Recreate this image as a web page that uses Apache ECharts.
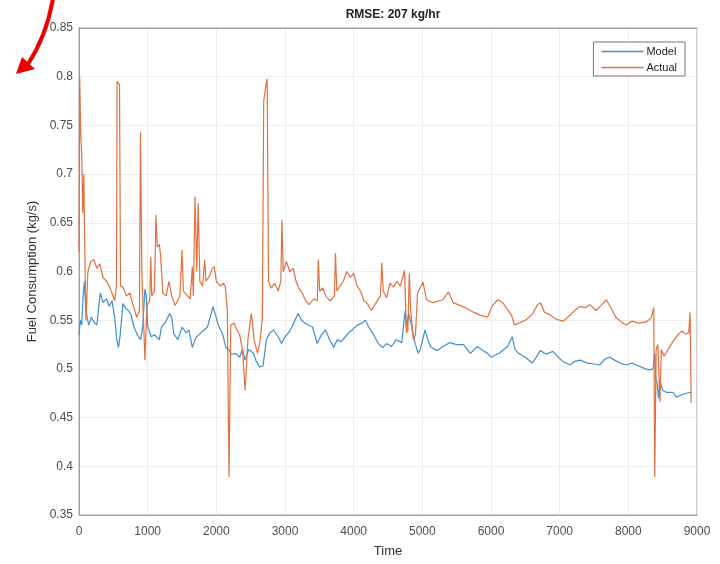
<!DOCTYPE html>
<html lang="en">
<head>
	<meta charset="UTF-8">
	<title>RMSE: 207 kg/hr</title>
	<script src="https://cdn.jsdelivr.net/npm/echarts@6/dist/echarts.min.js"></script>
	<style>
		body { margin: 0; background: #fff; }
	</style>
</head>
<body>
	<div id="main" style="width: 720px;height: 564px"></div>
	<script>
		// tick labels of the axes
		var xTicks = [0, 1000, 2000, 3000, 4000, 5000, 6000, 7000, 8000, 9000];
		var yTicks = [0.35, 0.4, 0.45, 0.5, 0.55, 0.6, 0.65, 0.7, 0.75, 0.8, 0.85];

		// Model series
		var modelTime = [0, 20, 40, 60, 80, 100, 140, 180, 220, 260, 310, 350, 400, 440, 480, 520, 550, 575, 600, 640,
			680, 720, 760, 800, 850, 900, 930, 960, 980, 1000, 1050, 1100, 1170, 1200, 1260, 1320, 1350, 1380, 1440, 1500,
			1560, 1600, 1650, 1700, 1760, 1820, 1870, 1920, 1950, 1990, 2020, 2060, 2090, 2140, 2180, 2220, 2280, 2340, 2380, 2420,
			2470, 2540, 2580, 2630, 2680, 2730, 2780, 2830, 2900, 2950, 3000, 3060, 3100, 3190, 3240, 3290, 3340, 3400, 3470, 3530,
			3590, 3650, 3710, 3760, 3820, 3880, 3940, 3980, 4050, 4120, 4170, 4220, 4290, 4360, 4420, 4480, 4550, 4620, 4700, 4750,
			4770, 4800, 4840, 4880, 4940, 4970, 5040, 5080, 5120, 5180, 5220, 5300, 5400, 5500, 5600, 5700, 5800, 5900, 5950, 6000,
			6120, 6240, 6310, 6350, 6400, 6500, 6600, 6660, 6720, 6800, 6900, 6980, 7060, 7150, 7230, 7300, 7400, 7500, 7580, 7660,
			7730, 7800, 7880, 7970, 8050, 8150, 8250, 8310, 8360, 8385, 8400, 8420, 8440, 8460, 8500, 8550, 8650, 8700, 8800, 8900, 8915];
		var modelValues = [0.535, 0.55, 0.545, 0.575, 0.59, 0.56, 0.545, 0.553, 0.548, 0.545, 0.578, 0.568, 0.572, 0.564, 0.57, 0.553, 0.53, 0.522, 0.535, 0.567,
			0.562, 0.56, 0.555, 0.543, 0.535, 0.53, 0.545, 0.582, 0.575, 0.544, 0.533, 0.535, 0.53, 0.543, 0.548, 0.557, 0.553, 0.536, 0.53, 0.543,
			0.537, 0.54, 0.522, 0.532, 0.536, 0.54, 0.543, 0.555, 0.564, 0.555, 0.547, 0.54, 0.536, 0.522, 0.52, 0.515, 0.516, 0.512, 0.52, 0.509,
			0.52, 0.516, 0.508, 0.502, 0.503, 0.53, 0.537, 0.54, 0.533, 0.526, 0.533, 0.538, 0.543, 0.557, 0.55, 0.547, 0.545, 0.543, 0.526, 0.535,
			0.54, 0.53, 0.522, 0.53, 0.528, 0.533, 0.538, 0.54, 0.545, 0.547, 0.55, 0.543, 0.535, 0.526, 0.522, 0.526, 0.523, 0.53, 0.527, 0.56,
			0.54, 0.557, 0.545, 0.53, 0.516, 0.52, 0.54, 0.53, 0.523, 0.52, 0.519, 0.523, 0.527, 0.525, 0.525, 0.516, 0.523, 0.518, 0.516, 0.512,
			0.516, 0.523, 0.533, 0.52, 0.516, 0.512, 0.506, 0.512, 0.519, 0.515, 0.518, 0.512, 0.507, 0.504, 0.508, 0.509, 0.506, 0.505, 0.504, 0.51,
			0.512, 0.509, 0.506, 0.504, 0.506, 0.503, 0.5, 0.499, 0.5, 0.516, 0.49, 0.485, 0.47, 0.488, 0.478, 0.476, 0.476, 0.471, 0.474, 0.476, 0.475];

		// Actual series
		var actualTime = [0, 10, 25, 40, 55, 70, 85, 100, 130, 170, 220, 260, 300, 350, 400, 440, 480, 520, 545, 555,
			590, 605, 640, 690, 740, 790, 840, 880, 895, 915, 960, 990, 1030, 1045, 1060, 1100, 1120, 1140, 1170, 1190,
			1220, 1270, 1310, 1350, 1400, 1470, 1500, 1520, 1580, 1620, 1650, 1665, 1690, 1715, 1735, 1760, 1800, 1830, 1850, 1900,
			1940, 1970, 2000, 2060, 2100, 2130, 2160, 2185, 2210, 2260, 2300, 2340, 2380, 2420, 2460, 2510, 2550, 2600, 2640, 2670,
			2690, 2720, 2740, 2760, 2800, 2850, 2900, 2940, 2955, 2975, 3020, 3070, 3120, 3160, 3200, 3250, 3300, 3350, 3420, 3470,
			3485, 3505, 3550, 3600, 3660, 3720, 3735, 3755, 3800, 3850, 3900, 3950, 4000, 4050, 4100, 4150, 4200, 4260, 4300, 4390,
			4410, 4430, 4480, 4530, 4580, 4630, 4680, 4740, 4770, 4790, 4810, 4830, 4870, 4900, 4930, 5010, 5060, 5150, 5250, 5300,
			5380, 5450, 5550, 5650, 5750, 5850, 5950, 6020, 6100, 6170, 6250, 6300, 6340, 6400, 6500, 6600, 6680, 6720, 6780, 6850,
			6950, 7050, 7150, 7250, 7300, 7380, 7440, 7530, 7600, 7680, 7750, 7820, 7900, 7970, 8050, 8150, 8250, 8330, 8370, 8385,
			8405, 8430, 8460, 8480, 8520, 8580, 8650, 8720, 8780, 8830, 8880, 8900, 8915];
		var actualValues = [0.62, 0.8, 0.74, 0.72, 0.66, 0.7, 0.62, 0.55, 0.6, 0.61, 0.612, 0.603, 0.608, 0.594, 0.59, 0.585, 0.578, 0.57, 0.585, 0.795,
			0.792, 0.585, 0.584, 0.575, 0.578, 0.565, 0.553, 0.56, 0.743, 0.6, 0.509, 0.565, 0.57, 0.615, 0.575, 0.58, 0.658, 0.625, 0.628, 0.615,
			0.578, 0.575, 0.59, 0.575, 0.565, 0.575, 0.622, 0.58, 0.575, 0.572, 0.605, 0.575, 0.677, 0.6, 0.67, 0.59, 0.585, 0.612, 0.59, 0.595,
			0.603, 0.605, 0.59, 0.585, 0.588, 0.585, 0.56, 0.389, 0.545, 0.547, 0.54, 0.535, 0.52, 0.478, 0.53, 0.557, 0.53, 0.516, 0.53, 0.553,
			0.775, 0.79, 0.798, 0.59, 0.583, 0.588, 0.58, 0.59, 0.653, 0.6, 0.61, 0.6, 0.603, 0.59, 0.583, 0.578, 0.57, 0.566, 0.572, 0.57,
			0.612, 0.58, 0.583, 0.574, 0.57, 0.575, 0.619, 0.58, 0.585, 0.59, 0.6, 0.594, 0.598, 0.585, 0.58, 0.57, 0.567, 0.56, 0.565, 0.575,
			0.609, 0.58, 0.573, 0.588, 0.584, 0.59, 0.585, 0.601, 0.537, 0.54, 0.598, 0.56, 0.53, 0.535, 0.578, 0.589, 0.571, 0.568, 0.57, 0.571,
			0.579, 0.568, 0.565, 0.562, 0.558, 0.555, 0.553, 0.565, 0.571, 0.568, 0.56, 0.555, 0.545, 0.547, 0.55, 0.556, 0.566, 0.568, 0.558, 0.556,
			0.551, 0.549, 0.555, 0.562, 0.564, 0.563, 0.566, 0.56, 0.565, 0.571, 0.562, 0.553, 0.548, 0.545, 0.549, 0.547, 0.548, 0.552, 0.563, 0.389,
			0.52, 0.525, 0.466, 0.52, 0.513, 0.52, 0.528, 0.535, 0.539, 0.536, 0.537, 0.558, 0.465];

		function pairs(t, v) {
			return t.map(function (x, i) { return [x, v[i]]; });
		}

		var textColor = '#4d4d4d';
		var boxColor = '#a0a0a0';

		var myChart = echarts.init(document.getElementById('main'));
		var option = {
			animation: false,
			backgroundColor: '#fff',
			title: {
				text: 'RMSE: 207 kg/hr',
				left: 388,
				top: 4,
				textAlign: 'center',
				textStyle: { fontFamily: 'Liberation Sans', fontSize: 12, fontWeight: 'bold', color: '#222' }
			},
			legend: {
				orient: 'vertical',
				right: 35,
				top: 42,
				backgroundColor: '#fff',
				borderColor: '#777',
				borderWidth: 1,
				borderRadius: 0,
				padding: [4, 8, 3, 8],
				itemGap: 5,
				itemWidth: 42,
				itemHeight: 1.5,
				icon: 'rect',
				textStyle: { fontFamily: 'Liberation Sans', fontSize: 11, color: '#222', padding: [0, 0, 0, -2] },
				data: ['Model', 'Actual']
			},
			grid: {
				left: 79,
				right: 23,
				top: 28,
				bottom: 49,
				show: true,
				borderColor: boxColor,
				borderWidth: 1
			},
			xAxis: [{
				type: 'value',
				min: xTicks[0],
				max: xTicks[xTicks.length - 1],
				interval: 1000,
				name: 'Time',
				nameLocation: 'middle',
				nameGap: 30,
				nameTextStyle: { fontFamily: 'Liberation Sans', fontSize: 13, color: '#333' },
				axisLine: { lineStyle: { color: boxColor } },
				axisTick: { show: false },
				axisLabel: {
					margin: 11, fontFamily: 'Liberation Sans', fontSize: 12, color: textColor,
					formatter: function (v) { return String(v); }
				},
				splitLine: { show: true, lineStyle: { color: '#ececec' } }
			}, {
				type: 'value',
				position: 'top',
				min: xTicks[0],
				max: xTicks[xTicks.length - 1],
				interval: 1000,
				axisLine: { lineStyle: { color: boxColor } },
				axisTick: { show: false },
				axisLabel: { show: false },
				splitLine: { show: false }
			}],
			yAxis: [{
				type: 'value',
				min: yTicks[0],
				max: yTicks[yTicks.length - 1],
				interval: 0.05,
				name: 'Fuel Consumption (kg/s)',
				nameLocation: 'middle',
				nameGap: 39,
				nameTextStyle: { fontFamily: 'Liberation Sans', fontSize: 13, color: '#333' },
				axisLine: { show: true, lineStyle: { color: boxColor } },
				axisTick: { show: false },
				axisLabel: { margin: 6, fontFamily: 'Liberation Sans', fontSize: 12, color: textColor },
				splitLine: { show: true, lineStyle: { color: '#ececec' } }
			}, {
				type: 'value',
				position: 'right',
				min: yTicks[0],
				max: yTicks[yTicks.length - 1],
				interval: 0.05,
				axisLine: { show: true, lineStyle: { color: boxColor } },
				axisTick: { show: false },
				axisLabel: { show: false },
				splitLine: { show: false }
			}],
			series: [{
				name: 'Model',
				type: 'line',
				showSymbol: false,
				symbol: 'none',
				color: '#3d8fcf',
				lineStyle: { width: 1.2, color: '#3d8fcf' },
				data: pairs(modelTime, modelValues)
			}, {
				name: 'Actual',
				type: 'line',
				showSymbol: false,
				symbol: 'none',
				color: '#e0703f',
				lineStyle: { width: 1.2, color: '#e0703f' },
				data: pairs(actualTime, actualValues)
			}],
			// red annotation arrow in the corner
			graphic: [{
				type: 'bezierCurve',
				shape: { x1: 53, y1: -2, x2: 28, y2: 64, cpx1: 47, cpy1: 35 },
				style: { stroke: '#ee0000', lineWidth: 4, fill: null }
			}, {
				type: 'polygon',
				shape: { points: [[16, 74], [22, 57], [35, 69]] },
				style: { fill: '#ee0000' }
			}]
		};

		myChart.setOption(option);
	</script>
</body>
</html>
